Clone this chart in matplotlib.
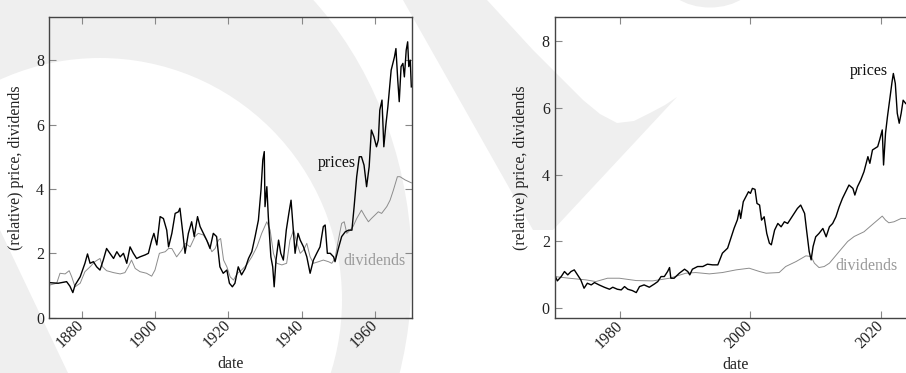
import matplotlib
matplotlib.use("Agg")
import matplotlib.pyplot as plt
from matplotlib.patches import Ellipse, Circle, Polygon

plt.rcParams['font.family'] = ['Liberation Serif', 'DejaVu Serif']

# ---------------- data (year, relative value) ----------------
prices_early = [
    (1871.1, 1.09), (1873.6, 1.07), (1875.9, 1.12), (1876.8, 0.98), (1877.6, 0.78),
    (1878.2, 1.01), (1879.6, 1.27), (1880.9, 1.69), (1881.6, 1.98), (1882.3, 1.69),
    (1883.2, 1.74), (1884.1, 1.58), (1885.0, 1.48), (1885.9, 1.79), (1886.8, 2.15),
    (1887.7, 2.00), (1888.7, 1.84), (1889.6, 2.05), (1890.5, 1.89), (1891.4, 2.00),
    (1892.3, 1.69), (1893.2, 2.20), (1894.1, 2.00), (1895.0, 1.84), (1895.9, 1.89),
    (1897.3, 1.95), (1898.2, 2.00), (1899.1, 2.41), (1899.7, 2.62), (1900.5, 2.26),
    (1901.4, 3.14), (1902.3, 3.08), (1903.2, 2.72), (1903.7, 2.20), (1904.6, 2.62),
    (1905.5, 3.24), (1906.4, 3.29), (1906.8, 3.40), (1907.6, 2.62), (1908.2, 2.00),
    (1909.1, 2.62), (1910.0, 2.98), (1910.7, 2.52), (1911.6, 3.14), (1912.3, 2.83),
    (1913.2, 2.62), (1914.1, 2.41), (1915.0, 2.15), (1915.9, 2.62), (1916.8, 2.52),
    (1917.7, 1.58), (1918.6, 1.38), (1919.6, 1.48), (1920.3, 1.07), (1921.1, 0.96),
    (1921.8, 1.07), (1922.7, 1.58), (1923.6, 1.33), (1924.6, 1.53), (1925.5, 1.84),
    (1926.4, 2.05), (1927.3, 2.52), (1928.2, 3.03), (1928.9, 3.96), (1929.4, 4.90),
    (1929.8, 5.16), (1930.0, 3.45), (1930.5, 4.07), (1930.9, 3.14), (1931.6, 1.89),
    (1932.1, 1.58), (1932.5, 0.96), (1933.0, 1.79), (1933.7, 2.41), (1934.3, 2.00),
    (1935.0, 1.79), (1935.8, 2.72), (1936.5, 3.24), (1937.1, 3.65), (1937.8, 2.62),
    (1938.2, 2.00), (1939.0, 2.62), (1939.6, 2.41), (1940.5, 2.20), (1941.4, 1.89),
    (1942.3, 1.38), (1943.2, 1.79), (1944.1, 2.00), (1945.0, 2.20), (1945.9, 2.83),
    (1946.4, 2.88), (1947.0, 2.00), (1947.8, 2.00), (1948.7, 1.89), (1949.1, 1.74),
    (1950.0, 2.15), (1950.9, 2.52), (1951.9, 2.67), (1952.8, 2.72), (1953.7, 2.72),
    (1954.3, 3.45), (1955.0, 4.38), (1955.7, 5.00), (1956.3, 5.00), (1957.0, 4.74),
    (1957.7, 4.07), (1958.4, 4.69), (1959.0, 5.83), (1959.7, 5.62), (1960.4, 5.31),
    (1960.9, 5.52), (1961.3, 6.45), (1961.9, 6.76), (1962.4, 5.31), (1962.9, 5.93),
    (1963.5, 6.55), (1964.4, 7.69), (1965.3, 8.10), (1965.7, 8.36), (1966.2, 7.38),
    (1966.6, 6.71), (1967.1, 7.80), (1967.6, 7.90), (1968.0, 7.48), (1968.5, 8.31),
    (1968.9, 8.57), (1969.2, 7.80), (1969.6, 8.00), (1969.9, 7.17),
]

dividends_early = [
    (1871.1, 1.01), (1873.2, 1.07), (1874.1, 1.38), (1875.5, 1.36), (1876.6, 1.46),
    (1877.3, 1.27), (1878.2, 0.96), (1879.6, 1.07), (1880.9, 1.43), (1882.3, 1.58),
    (1883.6, 1.74), (1885.0, 1.84), (1885.7, 1.58), (1886.8, 1.46), (1888.7, 1.40),
    (1890.5, 1.36), (1891.8, 1.40), (1892.7, 1.58), (1893.6, 1.79), (1894.6, 1.53),
    (1895.9, 1.43), (1897.7, 1.38), (1899.1, 1.29), (1900.0, 1.48), (1901.2, 2.00),
    (1902.8, 2.05), (1903.7, 2.15), (1904.6, 2.15), (1905.9, 1.89), (1907.3, 2.10),
    (1908.2, 2.31), (1909.6, 2.20), (1910.9, 2.52), (1911.8, 2.62), (1913.2, 2.57),
    (1914.6, 2.31), (1915.5, 2.05), (1916.4, 2.15), (1917.3, 2.41), (1917.9, 2.46),
    (1918.7, 1.79), (1919.6, 1.58), (1920.5, 1.27), (1921.4, 1.17), (1922.5, 1.38),
    (1923.6, 1.48), (1925.0, 1.64), (1926.4, 1.89), (1927.8, 2.20), (1929.1, 2.62),
    (1930.5, 2.98), (1931.4, 2.72), (1932.3, 2.00), (1933.2, 1.69), (1934.6, 1.64),
    (1935.9, 1.69), (1936.8, 2.41), (1937.8, 2.72), (1938.7, 2.31), (1939.6, 2.00),
    (1940.5, 2.10), (1941.4, 2.31), (1942.3, 1.89), (1943.2, 1.69), (1944.6, 1.74),
    (1945.9, 1.79), (1947.3, 1.74), (1948.2, 1.69), (1949.1, 1.84), (1950.0, 2.41),
    (1950.9, 2.93), (1951.6, 2.98), (1952.3, 2.62), (1953.2, 2.72), (1954.0, 2.83),
    (1955.0, 3.08), (1956.3, 3.34), (1957.3, 3.14), (1958.2, 2.98), (1959.0, 3.08),
    (1960.0, 3.19), (1960.9, 3.29), (1961.8, 3.24), (1963.2, 3.45), (1964.1, 3.65),
    (1965.0, 3.96), (1966.1, 4.38), (1966.8, 4.38), (1968.2, 4.28), (1969.9, 4.19),
]

prices_recent = [
    (1970.0, 1.00), (1970.4, 0.82), (1971.0, 0.95), (1971.5, 1.10), (1972.0, 1.00),
    (1972.5, 1.10), (1973.0, 1.15), (1973.5, 1.00), (1974.0, 0.85), (1974.5, 0.60),
    (1975.0, 0.75), (1975.6, 0.70), (1976.1, 0.77), (1976.8, 0.70), (1977.6, 0.63),
    (1978.4, 0.57), (1978.9, 0.63), (1979.6, 0.57), (1980.2, 0.55), (1980.7, 0.65),
    (1981.2, 0.57), (1981.9, 0.53), (1982.5, 0.47), (1983.0, 0.65), (1983.7, 0.70),
    (1984.5, 0.63), (1985.3, 0.73), (1985.8, 0.80), (1986.3, 0.95), (1986.8, 0.95),
    (1987.3, 1.10), (1987.6, 1.22), (1987.8, 0.90), (1988.3, 0.90), (1989.1, 1.05),
    (1989.9, 1.17), (1990.4, 1.10), (1990.7, 1.00), (1991.1, 1.17), (1991.9, 1.25),
    (1992.7, 1.25), (1993.4, 1.32), (1994.2, 1.30), (1995.0, 1.30), (1995.7, 1.65),
    (1996.5, 1.80), (1997.0, 2.10), (1997.5, 2.40), (1998.0, 2.65), (1998.3, 2.94),
    (1998.5, 2.69), (1998.9, 3.19), (1999.3, 3.34), (1999.7, 3.49), (2000.0, 3.44),
    (2000.3, 3.59), (2000.7, 3.56), (2001.0, 3.14), (2001.4, 3.09), (2001.7, 2.64),
    (2002.1, 2.74), (2002.5, 2.24), (2002.9, 1.95), (2003.2, 1.90), (2003.7, 2.34),
    (2004.2, 2.54), (2004.7, 2.44), (2005.2, 2.59), (2005.7, 2.54), (2006.2, 2.69),
    (2006.7, 2.84), (2007.2, 2.99), (2007.7, 3.09), (2008.3, 2.84), (2008.6, 2.34),
    (2009.0, 1.70), (2009.3, 1.45), (2009.6, 1.85), (2010.0, 2.14), (2010.5, 2.24),
    (2011.1, 2.39), (2011.6, 2.14), (2012.1, 2.44), (2012.6, 2.54), (2013.1, 2.74),
    (2013.6, 3.04), (2014.1, 3.29), (2014.6, 3.49), (2015.1, 3.69), (2015.7, 3.59),
    (2016.0, 3.39), (2016.4, 3.64), (2016.9, 3.84), (2017.4, 4.09), (2018.0, 4.54),
    (2018.3, 4.34), (2018.7, 4.74), (2019.1, 4.79), (2019.5, 4.84), (2019.8, 5.04),
    (2020.2, 5.34), (2020.4, 4.29), (2020.7, 5.24), (2021.0, 5.74), (2021.4, 6.33),
    (2021.7, 6.78), (2021.9, 7.03), (2022.2, 6.73), (2022.5, 5.84), (2022.8, 5.54),
    (2023.1, 5.84), (2023.4, 6.23), (2023.8, 6.13),
]

dividends_recent = [
    (1970.0, 0.95), (1972.2, 0.90), (1974.8, 0.85), (1976.3, 0.80), (1978.1, 0.90),
    (1979.9, 0.90), (1982.5, 0.83), (1985.0, 0.82), (1987.6, 0.90), (1990.1, 1.05),
    (1991.6, 1.07), (1993.7, 1.03), (1995.7, 1.07), (1997.8, 1.15), (1999.8, 1.20),
    (2001.4, 1.10), (2002.4, 1.05), (2004.4, 1.07), (2005.4, 1.25), (2007.0, 1.40),
    (2008.5, 1.57), (2009.3, 1.55), (2009.8, 1.35), (2010.5, 1.22), (2011.3, 1.25),
    (2012.1, 1.35), (2013.6, 1.70), (2014.9, 2.00), (2015.9, 2.15), (2017.4, 2.29),
    (2018.7, 2.51), (2020.2, 2.76), (2020.7, 2.64), (2021.2, 2.56), (2022.0, 2.59),
    (2023.1, 2.69), (2023.8, 2.69),
]

ticks_early = [1880, 1900, 1920, 1940, 1960]
ticks_recent = [1980, 2000, 2020]
yticks = [0, 2, 4, 6, 8]

# ---------------- figure ----------------
W, H = 906, 373
fig = plt.figure(figsize=(W / 100, H / 100), dpi=100)
FS = 11.5

# faint background watermark
wm = '#efefef'
bg = fig.add_axes([0, 0, 1, 1], zorder=-10)
bg.set_xlim(0, W)
bg.set_ylim(H, 0)
bg.axis('off')
bg.add_patch(Ellipse((100, 270), 624, 740, color=wm, lw=0))
bg.add_patch(Circle((100, 300), 242, color='white', lw=0))
bg.add_patch(Polygon([(0, 230), (0, H), (68, H)], closed=True, color=wm, lw=0))
bg.add_patch(Polygon([(403, 0), (487, 0), (510, 25), (533, 50), (558, 75), (583, 100),
                      (600, 114), (617, 123), (634, 121), (650, 113), (665, 105),
                      (677, 97), (553, 230), (533, 230)], closed=True, color=wm, lw=0))
bg.add_patch(Ellipse((710, -25), 95, 65, color=wm, lw=0))

axw = 362.7 / W
axh = 301.0 / H
ax1 = fig.add_axes([49 / W, (H - 317.7) / H, axw, axh])
ax2 = fig.add_axes([554.7 / W, (H - 318.3) / H, axw, 301.6 / H])

price_c = 'black'
div_c = '#8c8c8c'
lab_c = '#999999'


def style(ax, xticks):
    ax.set_facecolor('none')
    for s in ax.spines.values():
        s.set_color('#444444')
        s.set_linewidth(1.0)
    ax.set_xticks(xticks)
    ax.set_yticks(yticks)
    ax.tick_params(direction='in', top=True, right=True, length=5, width=0.8,
                   color='#888888', labelsize=FS, pad=3.5, labelcolor='#222222')
    for lab in ax.get_xticklabels():
        lab.set_rotation(45)
        lab.set_ha('right')
        lab.set_va('center')
        lab.set_rotation_mode('anchor')
    ax.set_xlabel('date', fontsize=FS, color='#222222')
    ax.set_ylabel('(relative) price, dividends', fontsize=FS, color='#222222')
    ax.xaxis.set_label_coords(0.5, -0.127)
    ax.yaxis.set_label_coords(-0.07, 0.5)


# left panel
x, y = zip(*dividends_early)
ax1.plot(x, y, color=div_c, lw=0.7)
x, y = zip(*prices_early)
ax1.plot(x, y, color=price_c, lw=1.0)
ax1.set_xlim(1871.1, 1970.0)
ax1.set_ylim(0, 9.35)
style(ax1, ticks_early)
ax1.text(1954.9, 4.8, 'prices', ha='right', va='center', fontsize=FS, color='#111111')
ax1.text(1951.3, 1.76, 'dividends', ha='left', va='center', fontsize=FS, color=lab_c)

# right panel
x, y = zip(*dividends_recent)
ax2.plot(x, y, color=div_c, lw=0.7)
x, y = zip(*prices_recent)
ax2.plot(x, y, color=price_c, lw=1.0)
ax2.set_xlim(1970.0, 1970.0 + 362.7 / 6.525)
ax2.set_ylim(-0.3, 8.73)
style(ax2, ticks_recent)
ax2.text(2021.0, 7.1, 'prices', ha='right', va='center', fontsize=FS, color='#111111')
ax2.text(2013.06, 1.27, 'dividends', ha='left', va='center', fontsize=FS, color=lab_c)

fig.savefig('out.png', dpi=100)
